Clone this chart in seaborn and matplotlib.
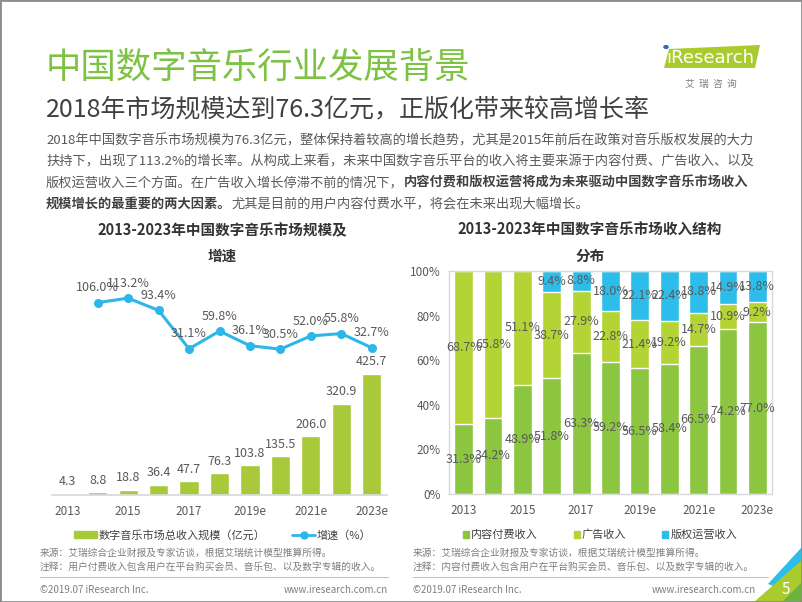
import numpy as np
import pandas as pd
import seaborn as sns
import matplotlib.pyplot as plt
from matplotlib.patches import Patch, Polygon, Rectangle, Circle
from matplotlib.lines import Line2D

# data
years = ['2013', '2014', '2015', '2016', '2017', '2018',
         '2019e', '2020e', '2021e', '2022e', '2023e']
market_size = [4.3, 8.8, 18.8, 36.4, 47.7, 76.3, 103.8, 135.5, 206.0, 320.9, 425.7]
growth = [np.nan, 106.0, 113.2, 93.4, 31.1, 59.8, 36.1, 30.5, 52.0, 55.8, 32.7]
content_share = [31.3, 34.2, 48.9, 51.8, 63.3, 59.2, 56.5, 58.4, 66.5, 74.2, 77.0]
ad_share = [68.7, 65.8, 51.1, 38.7, 27.9, 22.8, 21.4, 19.2, 14.7, 10.9, 9.2]
copyright_share = [0, 0, 0, 9.4, 8.8, 18.0, 22.1, 22.4, 18.8, 14.9, 13.8]

BAR_GREEN = '#A8C93A'
LINE_BLUE = '#2DB7E8'
CONTENT_GREEN = '#8CC540'
AD_LIME = '#B4D334'
CR_CYAN = '#2CBDEB'
TXT = '#595959'
DARK = '#333333'

sns.set_theme(style='white')
plt.rcParams['font.family'] = ['Noto Sans CJK SC', 'DejaVu Sans']

W, H = 802, 602
fig = plt.figure(figsize=(W / 100, H / 100), dpi=100)


def fx(x):
    return x / W


def fy(y):
    return 1 - y / H


# ---- header ----
fig.text(fx(46), fy(68), '中国数字音乐行业发展背景', fontsize=25.5,
         color='#7DC243', va='center')
fig.text(fx(46), fy(110), '2018年市场规模达到76.3亿元，正版化带来较高增长率',
         fontsize=18, color='#404040', va='center')

# logo
logo = Polygon([(fx(664), fy(68)), (fx(669), fy(49)), (fx(760), fy(45)), (fx(755), fy(68))],
               closed=True, transform=fig.transFigure, color='#A9CB2D', lw=0)
fig.add_artist(logo)
fig.text(fx(710), fy(58), '\u0131Research', fontsize=13, color='white',
         ha='center', va='center', family=['DejaVu Sans'])
fig.add_artist(Circle((fx(666), fy(47)), 0.0035, transform=fig.transFigure,
                      color='#2A6CB5', lw=0))
fig.text(fx(711), fy(84), '艾  瑞  咨  询', fontsize=7, color='#7f7f7f',
         ha='center', va='center')

# body text
body_size = 9.5
renderer = fig.canvas.get_renderer()
lines = [
    [('2018年中国数字音乐市场规模为76.3亿元，整体保持着较高的增长趋势，尤其是2015年前后在政策对音乐版权发展的大力', 'normal')],
    [('扶持下，出现了113.2%的增长率。从构成上来看，未来中国数字音乐平台的收入将主要来源于内容付费、广告收入、以及', 'normal')],
    [('版权运营收入三个方面。在广告收入增长停滞不前的情况下，', 'normal'),
     ('内容付费和版权运营将成为未来驱动中国数字音乐市场收入', 'bold')],
    [('规模增长的最重要的两大因素。', 'bold'),
     ('尤其是目前的用户内容付费水平，将会在未来出现大幅增长。', 'normal')],
]
for row, parts in enumerate(lines):
    x = fx(46)
    for txt, weight in parts:
        color = '#404040' if weight == 'bold' else TXT
        t = fig.text(x, fy(141 + 21 * row), txt, fontsize=body_size, color=color,
                     weight=weight, va='center')
        bb = t.get_window_extent(renderer)
        x = bb.x1 / fig.bbox.width

# ---- left chart: market size and growth ----
fig.text(fx(222), fy(230), '2013-2023年中国数字音乐市场规模及', fontsize=10.5,
         weight='bold', color=DARK, ha='center', va='center')
fig.text(fx(222), fy(256), '增速', fontsize=10.5, weight='bold', color=DARK,
         ha='center', va='center')

ax1 = fig.add_axes([fx(52), fy(495), (387 - 52) / W, (495 - 265) / H])
df1 = pd.DataFrame({'year': years, 'size': market_size, 'growth': growth})
sns.barplot(data=df1, x='year', y='size', color=BAR_GREEN, saturation=1,
            width=0.63, ax=ax1)
ax1.bar_label(ax1.containers[0], fmt='%.1f', padding=4, fontsize=9, color=TXT)
ax1.set_xlim(-0.5, len(years) - 0.5)
ax1.set_ylim(0, 809)
ax1.set_xticks(range(0, len(years), 2))
ax1.set_xticklabels(years[::2])
ax1.tick_params(axis='x', length=0, pad=7, labelsize=8.5, labelcolor=TXT)
ax1.set_yticks([])
ax1.set_xlabel('')
ax1.set_ylabel('')
for s in ['left', 'top', 'right']:
    ax1.spines[s].set_visible(False)
ax1.spines['bottom'].set_color('#d9d9d9')

ax2 = ax1.twinx()
gdf = df1.reset_index().dropna(subset=['growth'])
sns.lineplot(data=gdf, x='index', y='growth', color=LINE_BLUE, marker='o',
             markersize=6.5, markeredgewidth=0, linewidth=2.2, ax=ax2)
for i, g in zip(gdf['index'], gdf['growth']):
    ax2.annotate(f'{g:.1f}%', (i, g), xytext=(0, 6), textcoords='offset points',
                 ha='center', va='bottom', fontsize=9, color=TXT)
ax2.set_ylim(-206, 167)
ax2.set_yticks([])
ax2.set_xlabel('')
ax2.set_ylabel('')
for s in ax2.spines.values():
    s.set_visible(False)

fig.legend(handles=[Patch(color=BAR_GREEN),
                    Line2D([], [], color=LINE_BLUE, marker='o', lw=2, ms=5)],
           labels=['数字音乐市场总收入规模（亿元）', '增速（%）'],
           loc='center', bbox_to_anchor=(fx(223), fy(535)), ncol=2, frameon=False,
           fontsize=8, labelcolor='#404040', handlelength=2.0, handleheight=0.6,
           handletextpad=0.2, columnspacing=2.4)

# ---- right chart: revenue structure ----
fig.text(fx(590), fy(230), '2013-2023年中国数字音乐市场收入结构', fontsize=10.5,
         weight='bold', color=DARK, ha='center', va='center')
fig.text(fx(590), fy(256), '分布', fontsize=10.5, weight='bold', color=DARK,
         ha='center', va='center')

ax3 = fig.add_axes([fx(449), fy(494), (772 - 449) / W, (494 - 271) / H])
df2 = pd.DataFrame({'year': years, 'content': content_share, 'ad': ad_share,
                    'copyright': copyright_share})
df2['content_ad'] = df2['content'] + df2['ad']
df2['total'] = df2['content_ad'] + df2['copyright']
# stacked by overdrawing cumulative totals
sns.barplot(data=df2, x='year', y='total', color=CR_CYAN, saturation=1, width=0.64, ax=ax3)
sns.barplot(data=df2, x='year', y='content_ad', color=AD_LIME, saturation=1, width=0.64, ax=ax3)
sns.barplot(data=df2, x='year', y='content', color=CONTENT_GREEN, saturation=1, width=0.64, ax=ax3)
for i, r in df2.iterrows():
    ax3.text(i, r['content'] / 2, f"{r['content']:.1f}%", ha='center', va='center',
             fontsize=9, color=TXT)
    ax3.text(i, r['content'] + r['ad'] / 2, f"{r['ad']:.1f}%", ha='center', va='center',
             fontsize=9, color=TXT)
    if r['copyright'] > 0:
        ax3.text(i, r['content_ad'] + r['copyright'] / 2, f"{r['copyright']:.1f}%",
                 ha='center', va='center', fontsize=9, color=TXT)
ax3.set_xlim(-0.5, len(years) - 0.5)
ax3.set_ylim(0, 100)
ax3.set_yticks(range(0, 101, 20))
ax3.set_yticklabels([f'{v}%' for v in range(0, 101, 20)])
ax3.set_xticks(range(0, len(years), 2))
ax3.set_xticklabels(years[::2])
ax3.tick_params(axis='both', length=0, labelsize=8.5, labelcolor=TXT)
ax3.tick_params(axis='x', pad=7)
ax3.tick_params(axis='y', pad=6)
ax3.set_xlabel('')
ax3.set_ylabel('')
for s in ax3.spines.values():
    s.set_color('#d9d9d9')
    s.set_linewidth(1)

fig.legend(handles=[Patch(color=CONTENT_GREEN), Patch(color=AD_LIME), Patch(color=CR_CYAN)],
           labels=['内容付费收入', '广告收入', '版权运营收入'],
           loc='center', bbox_to_anchor=(fx(600), fy(535)), ncol=3, frameon=False,
           fontsize=8, labelcolor='#404040', handlelength=0.55, handleheight=0.55,
           handletextpad=0.2, columnspacing=3.2)

# ---- footnotes ----
foot = '#7f7f7f'
fig.text(fx(40), fy(553), '来源：艾瑞综合企业财报及专家访谈，根据艾瑞统计模型推算所得。',
         fontsize=7, color=foot, va='center')
fig.text(fx(40), fy(567), '注释：用户付费收入包含用户在平台购买会员、音乐包、以及数字专辑的收入。',
         fontsize=7, color=foot, va='center')
fig.text(fx(413), fy(553), '来源：艾瑞综合企业财报及专家访谈，根据艾瑞统计模型推算所得。',
         fontsize=7, color=foot, va='center')
fig.text(fx(413), fy(567), '注释：内容付费收入包含用户在平台购买会员、音乐包、以及数字专辑的收入。',
         fontsize=7, color=foot, va='center')

for x0, x1 in [(40, 388), (413, 768)]:
    fig.add_artist(Line2D([fx(x0), fx(x1)], [fy(577), fy(577)], color='#bfbfbf',
                          lw=0.8, transform=fig.transFigure))
fig.text(fx(40), fy(590), '©2019.07 iResearch Inc.', fontsize=7, color=foot, va='center')
fig.text(fx(388), fy(590), 'www.iresearch.com.cn', fontsize=7, color=foot,
         va='center', ha='right')
fig.text(fx(413), fy(590), '©2019.07 iResearch Inc.', fontsize=7, color=foot, va='center')
fig.text(fx(756), fy(590), 'www.iresearch.com.cn', fontsize=7, color=foot,
         va='center', ha='right')

# corner decoration with page number
for pts, col in [([(768, 584), (802, 547), (802, 569), (784, 590)], CR_CYAN),
                 ([(754, 602), (802, 560), (802, 602)], '#A9CB2D'),
                 ([(782, 602), (802, 582), (802, 602)], '#6DB33F')]:
    fig.add_artist(Polygon([(fx(a), fy(b)) for a, b in pts], closed=True,
                           transform=fig.transFigure, color=col, lw=0))
fig.text(fx(786), fy(589), '5', fontsize=11, color='white', ha='center', va='center')

fig.add_artist(Rectangle((0, 0), 1, 1, transform=fig.transFigure, fill=False,
                         edgecolor='#8c8c8c', lw=2))

fig.savefig('out.png', dpi=100)
